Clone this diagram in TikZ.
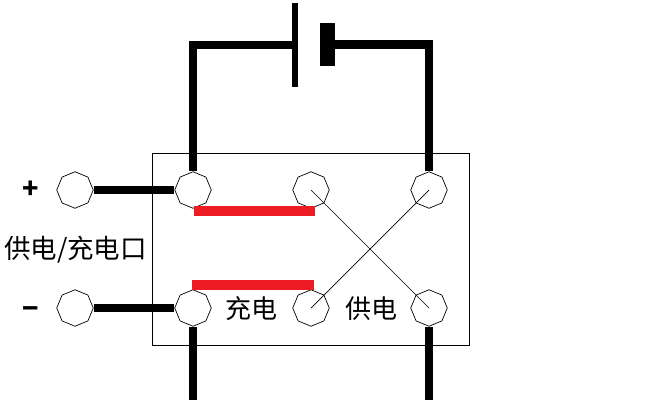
\documentclass[tikz,border=0pt]{standalone}
\usepackage{fontspec}
\newfontfamily\cjk{Noto Sans CJK SC}[Scale=1]
\usetikzlibrary{shapes.geometric}
\definecolor{barred}{HTML}{ED1C24}
\tikzset{
  terminal/.style={draw=black,line width=0.7pt,fill=white,regular polygon,regular polygon sides=8,shape border rotate=22.5,minimum size=36.5pt,inner sep=0pt},
  wire/.style={draw=black,line width=8.6pt,line cap=butt,line join=miter},
  thinwire/.style={draw=black,line width=0.7pt},
  plate/.style={fill=black,draw=none,inner sep=0pt},
  redbar/.style={fill=barred,draw=none,inner sep=0pt,minimum height=10pt},
  label/.style={inner sep=0pt,font=\cjk\fontsize{26}{26}\selectfont},
  portlabel/.style={inner sep=0pt,font=\cjk\fontsize{26.5}{26.5}\selectfont},
  sign/.style={inner sep=0pt,font=\cjk\bfseries\fontsize{27}{27}\selectfont}
}
\begin{document}
\begin{tikzpicture}[x=1pt,y=-1pt]
\useasboundingbox (0,0) rectangle (663,400);
\fill[white] (0,0) rectangle (663,400);
% case
\node[draw=black,line width=0.7pt,inner sep=0pt,minimum width=316.5pt,minimum height=191.5pt] (case) at (310.75,249.25) {};
% battery plates
\node[plate,minimum width=6pt,minimum height=84pt] (thin) at (295,45) {};
\node[plate,minimum width=15pt,minimum height=43pt] (thick) at (327.5,44.5) {};
% terminals
\node[terminal] (pplus) at (75,190) {};
\node[terminal] (pminus) at (75,308) {};
\node[terminal] (a1) at (193,190) {};
\node[terminal] (a2) at (193,308) {};
\node[terminal] (b1) at (311,190) {};
\node[terminal] (b2) at (311,308) {};
\node[terminal] (c1) at (429,190) {};
\node[terminal] (c2) at (429,308) {};
% free ends at the lower edge
\coordinate (outa) at (193,400);
\coordinate (outc) at (429,400);
% heavy wiring
\draw[wire] (a1.north) |- (thin.west);
\draw[wire] (c1.north) |- (thick.east);
\draw[wire] (pplus.east) -- (a1.west);
\draw[wire] (pminus.east) -- (a2.west);
\draw[wire] (a2.south) -- (outa);
\draw[wire] (c2.south) -- (outc);
% crossing links
\draw[thinwire] (b1.center) -- (c2.center);
\draw[thinwire] (c1.center) -- (b2.center);
% red bars
\node[redbar,minimum width=121pt] (bar1) at (254.5,210.5) {};
\node[redbar,minimum width=122pt] (bar2) at (253,284.8) {};
% labels
\node[sign] (lplus) at (30.5,190) {+};
\node[sign] (lminus) at (30.5,313) {−};
\node[portlabel] (lport) at (75.5,250) {供电/充电口};
\node[label] (lcharge) at (251.5,309) {充电};
\node[label] (lsupply) at (371,309) {供电};
\end{tikzpicture}
\end{document}
